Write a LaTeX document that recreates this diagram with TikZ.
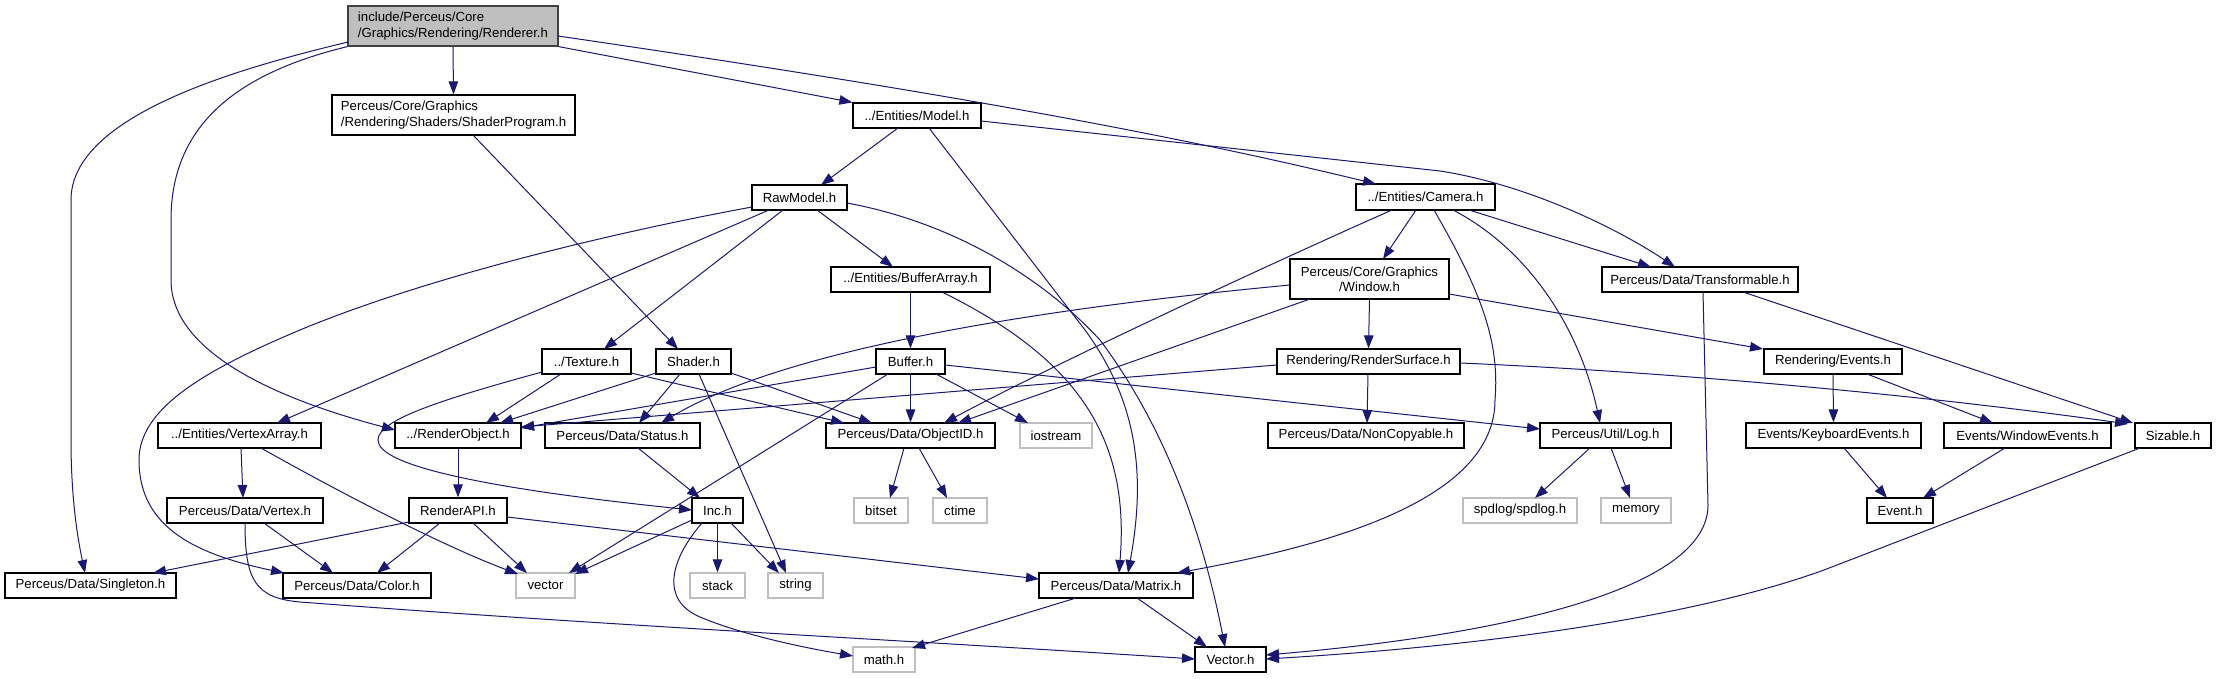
\documentclass[tikz,border=0pt]{standalone}
\usepackage{fontspec}
\setmainfont{Liberation Sans}
\usetikzlibrary{arrows.meta}
\definecolor{edgec}{HTML}{191970}
\definecolor{sysc}{HTML}{BFBFBF}
\definecolor{rootfill}{HTML}{BFBFBF}
\definecolor{rootdraw}{HTML}{404040}
\newcommand\gbox[7][box]{\node[#1, minimum width={(#5-#3)*1pt}, minimum height={(#6-#4)*1pt}] (#2) at ({(#3+#5)/2},{(#4+#6)/2}) {#7};}
\tikzset{
  box/.style={draw=black, line width=1.2pt, rectangle, inner sep=0pt, text=black,
    font=\fontsize{13.2}{15.3}\selectfont},
  sysbox/.style={box, draw=sysc},
  rootbox/.style={box, draw=rootdraw, fill=rootfill},
  dep/.style={draw=edgec, line width=1pt, -{Triangle[length=13pt,width=9.5pt]}},
}
\begin{document}
\begin{tikzpicture}[x=1pt,y=-1pt]
\fill[white] (0,0) rectangle (2217,679);
\useasboundingbox (0,0) rectangle (2217,679);
% nodes
\gbox[rootbox,align=left]{renderer}{348}{6}{558}{46}{include/Perceus/Core\\/Graphics/Rendering/Renderer.h}
\gbox[box,align=left]{shaderprog}{332}{95}{575}{135}{Perceus/Core/Graphics\\/Rendering/Shaders/ShaderProgram.h}
\gbox{model}{853}{103}{981}{128}{../Entities/Model.h}
\gbox{rawmodel}{752}{185}{847}{210}{RawModel.h}
\gbox{camera}{1356}{184}{1495}{210}{../Entities/Camera.h}
\gbox{bufferarray}{831}{267}{990}{292}{../Entities/BufferArray.h}
\gbox[box,align=center]{window}{1290}{259}{1449}{299}{Perceus/Core/Graphics\\/Window.h}
\gbox{transformable}{1602}{267}{1798}{292}{Perceus/Data/Transformable.h}
\gbox{texture}{542}{349}{631}{374}{../Texture.h}
\gbox{shader}{656}{349}{731}{374}{Shader.h}
\gbox{buffer}{876}{349}{945}{374}{Buffer.h}
\gbox{rendersurface}{1277}{349}{1460}{374}{Rendering/RenderSurface.h}
\gbox{events}{1764}{349}{1902}{374}{Rendering/Events.h}
\gbox{vertexarray}{158}{423}{321}{448}{../Entities/VertexArray.h}
\gbox{renderobject}{395}{423}{521}{448}{../RenderObject.h}
\gbox{status}{545}{423}{700}{448}{Perceus/Data/Status.h}
\gbox{objectid}{826}{423}{995}{448}{Perceus/Data/ObjectID.h}
\gbox[sysbox]{iostream}{1020}{423}{1092}{448}{iostream}
\gbox{noncopyable}{1268}{423}{1464}{448}{Perceus/Data/NonCopyable.h}
\gbox{log}{1540}{423}{1671}{448}{Perceus/Util/Log.h}
\gbox{keyboard}{1746}{423}{1921}{448}{Events/KeyboardEvents.h}
\gbox{windowevents}{1944}{423}{2111}{448}{Events/WindowEvents.h}
\gbox{sizable}{2135}{423}{2211}{448}{Sizable.h}
\gbox{vertex}{167}{498}{323}{523}{Perceus/Data/Vertex.h}
\gbox{renderapi}{409}{498}{507}{523}{RenderAPI.h}
\gbox{inc}{692}{498}{743}{523}{Inc.h}
\gbox[sysbox]{bitset}{854}{498}{908}{523}{bitset}
\gbox[sysbox]{ctime}{933}{498}{987}{523}{ctime}
\gbox[sysbox]{spdlog}{1463}{498}{1577}{523}{spdlog/spdlog.h}
\gbox[sysbox]{memory}{1601}{498}{1671}{523}{memory}
\gbox{event}{1867}{498}{1933}{523}{Event.h}
\gbox{singleton}{5}{573}{176}{598}{Perceus/Data/Singleton.h}
\gbox{color}{283}{573}{431}{598}{Perceus/Data/Color.h}
\gbox[sysbox]{vector}{516}{573}{575}{598}{vector}
\gbox[sysbox]{stack}{690}{573}{745}{598}{stack}
\gbox[sysbox]{string}{768}{573}{823}{598}{string}
\gbox{matrix}{1039}{573}{1193}{598}{Perceus/Data/Matrix.h}
\gbox[sysbox]{mathh}{853}{647}{915}{672}{math.h}
\gbox{vectorh}{1195}{647}{1266}{672}{Vector.h}
% edges
\draw[dep] (renderer.south) -- (shaderprog.north);
\draw[dep] (renderer.south east) -- (model.north west);
\draw[dep] ([shift={(105,10)}]renderer.center) .. controls (900,86) and (1150,129) .. ([shift={(-49.5,-13)}]camera.center);
\draw[dep] ([shift={(-105,16)}]renderer.center) .. controls (240,68) and (71,115) .. (71,200) -- (71,440) .. controls (71,500) and (78,540) .. ([shift={(-5.5,-12.5)}]singleton.center);
\draw[dep] (renderer.south west) .. controls (230,75) and (171,130) .. (171,220) -- (171,280) .. controls (171,360) and (300,405) .. ([shift={(-63,-5.5)}]renderobject.center);
\draw[dep] ([shift={(19.5,20)}]shaderprog.center) -- ([shift={(-15.5,-12.5)}]shader.center);
\draw[dep] ([shift={(-19,12.5)}]model.center) -- ([shift={(21.5,-12.5)}]rawmodel.center);
\draw[dep] ([shift={(64,5.5)}]model.center) -- (1440,171) .. controls (1530,185) and (1620,230) .. ([shift={(-25,-12.5)}]transformable.center);
\draw[dep] ([shift={(12,12.5)}]model.center) -- (1085,330) .. controls (1140,405) and (1145,480) .. ([shift={(12,-12.5)}]matrix.center);
\draw[dep] ([shift={(17.5,12.5)}]rawmodel.center) -- ([shift={(-17.5,-12.5)}]bufferarray.center);
\draw[dep] ([shift={(-16.5,12.5)}]rawmodel.center) -- ([shift={(17.5,-12.5)}]texture.center);
\draw[dep] ([shift={(-30.5,12.5)}]rawmodel.center) -- ([shift={(37.5,-12.5)}]vertexarray.center);
\draw[dep] ([shift={(-47.5,9.5)}]rawmodel.center) .. controls (600,235) and (420,280) .. (300,330) .. controls (200,372) and (139,410) .. (139,460) .. controls (139,530) and (200,555) .. ([shift={(-73,-12.5)}]color.center);
\draw[dep] ([shift={(47.5,5.5)}]rawmodel.center) .. controls (950,222) and (1040,275) .. (1100,340) .. controls (1160,420) and (1200,520) .. ([shift={(-5.5,-12.5)}]vectorh.center);
\draw[dep] ([shift={(-9.5,13)}]camera.center) -- ([shift={(13.5,-20)}]window.center);
\draw[dep] ([shift={(-33.5,13)}]camera.center) .. controls (1290,255) and (1060,361) .. ([shift={(33.5,-12.5)}]objectid.center);
\draw[dep] ([shift={(8.5,13)}]camera.center) .. controls (1480,290) and (1500,340) .. (1495,400) .. controls (1495,500) and (1330,545) .. ([shift={(61,-12.5)}]matrix.center);
\draw[dep] ([shift={(27.5,13)}]camera.center) .. controls (1530,250) and (1580,330) .. ([shift={(-5.5,-12.5)}]log.center);
\draw[dep] ([shift={(43.5,13)}]camera.center) -- ([shift={(-49,-12.5)}]transformable.center);
\draw[dep] (bufferarray.south) -- (buffer.north);
\draw[dep] ([shift={(31.5,12.5)}]bufferarray.center) .. controls (1080,360) and (1130,440) .. ([shift={(3,-12.5)}]matrix.center);
\draw[dep] (window.south) -- (rendersurface.north);
\draw[dep] ([shift={(79.5,15)}]window.center) -- ([shift={(-70,-12.5)}]events.center);
\draw[dep] ([shift={(-79.5,6)}]window.center) .. controls (1100,303) and (800,340) .. ([shift={(38.5,-12.5)}]status.center);
\draw[dep] ([shift={(-59.5,20)}]window.center) -- ([shift={(47.5,-12.5)}]objectid.center);
\draw[dep] ([shift={(43,12.5)}]transformable.center) -- ([shift={(-40,-12.5)}]sizable.center);
\draw[dep] ([shift={(3,12.5)}]transformable.center) -- (1708,505) .. controls (1708,590) and (1500,635) .. ([shift={(35.5,-4.5)}]vectorh.center);
\draw[dep] ([shift={(-25.5,12.5)}]texture.center) -- ([shift={(28,-12.5)}]renderobject.center);
\draw[dep] ([shift={(44.5,11.5)}]texture.center) -- ([shift={(-66.5,-12.5)}]objectid.center);
\draw[dep] ([shift={(-44.5,10.5)}]texture.center) .. controls (440,400) and (378,420) .. (378,440) .. controls (378,465) and (480,488) .. ([shift={(-25.5,-0.5)}]inc.center);
\draw[dep] ([shift={(-37.5,11.5)}]shader.center) -- ([shift={(42,-12.5)}]renderobject.center);
\draw[dep] ([shift={(-13.5,12.5)}]shader.center) -- ([shift={(16.5,-12.5)}]status.center);
\draw[dep] ([shift={(37.5,11.5)}]shader.center) -- ([shift={(-38.5,-12.5)}]objectid.center);
\draw[dep] ([shift={(5.5,12.5)}]shader.center) -- ([shift={(-9.5,-12.5)}]string.center);
\draw[dep] (buffer.south) -- (objectid.north);
\draw[dep] ([shift={(25.5,12.5)}]buffer.center) -- ([shift={(-28,-12.5)}]iostream.center);
\draw[dep] ([shift={(-34.5,5.5)}]buffer.center) -- ([shift={(63,-7.5)}]renderobject.center);
\draw[dep] ([shift={(-22.5,12.5)}]buffer.center) -- ([shift={(23.5,-12.5)}]vector.center);
\draw[dep] ([shift={(34.5,3.5)}]buffer.center) -- ([shift={(-65.5,-6.5)}]log.center);
\draw[dep] ([shift={(-0.5,12.5)}]rendersurface.center) -- ([shift={(1,-12.5)}]noncopyable.center);
\draw[dep] ([shift={(-91.5,3.5)}]rendersurface.center) -- ([shift={(63,-8.5)}]renderobject.center);
\draw[dep] ([shift={(91.5,1.5)}]rendersurface.center) .. controls (1650,371) and (1900,392) .. ([shift={(-45,-11.5)}]sizable.center);
\draw[dep] (events.south) -- (keyboard.north);
\draw[dep] ([shift={(34,12.5)}]events.center) -- ([shift={(-34.5,-12.5)}]windowevents.center);
\draw[dep] ([shift={(1.5,12.5)}]vertexarray.center) -- ([shift={(-2,-12.5)}]vertex.center);
\draw[dep] ([shift={(21.5,12.5)}]vertexarray.center) .. controls (330,487) and (440,545) .. ([shift={(-27.5,-11.5)}]vector.center);
\draw[dep] ([shift={(19,12.5)}]vertex.center) -- ([shift={(-24,-12.5)}]color.center);
\draw[dep] ([shift={(0,12.5)}]vertex.center) .. controls (245,580) and (255,598) .. (300,602) .. controls (600,625) and (900,640) .. ([shift={(-35.5,-0.5)}]vectorh.center);
\draw[dep] (renderobject.south) -- (renderapi.north);
\draw[dep] ([shift={(-49,11.5)}]renderapi.center) -- ([shift={(62.5,-12.5)}]singleton.center);
\draw[dep] ([shift={(-18,12.5)}]renderapi.center) -- ([shift={(20,-12.5)}]color.center);
\draw[dep] ([shift={(15,12.5)}]renderapi.center) -- ([shift={(-18.5,-12.5)}]vector.center);
\draw[dep] ([shift={(49,6.5)}]renderapi.center) -- ([shift={(-77,-6.5)}]matrix.center);
\draw[dep] ([shift={(15.5,12.5)}]status.center) -- ([shift={(-17.5,-12.5)}]inc.center);
\draw[dep] ([shift={(-6.5,12.5)}]objectid.center) -- ([shift={(9,-12.5)}]bitset.center);
\draw[dep] ([shift={(8.5,12.5)}]objectid.center) -- ([shift={(-13,-12.5)}]ctime.center);
\draw[dep] ([shift={(-25.5,9.5)}]inc.center) -- ([shift={(29.5,-11.5)}]vector.center);
\draw[dep] (inc.south) -- (stack.north);
\draw[dep] ([shift={(13.5,12.5)}]inc.center) -- ([shift={(-16.5,-12.5)}]string.center);
\draw[dep] ([shift={(-15.5,12.5)}]inc.center) .. controls (670,560) and (660,600) .. (700,617) .. controls (740,634) and (800,647) .. ([shift={(-31,-3.5)}]mathh.center);
\draw[dep] ([shift={(-40,12.5)}]matrix.center) -- ([shift={(28,-11.5)}]mathh.center);
\draw[dep] ([shift={(21,12.5)}]matrix.center) -- ([shift={(-23.5,-12.5)}]vectorh.center);
\draw[dep] ([shift={(-15.5,12.5)}]log.center) -- ([shift={(15,-12.5)}]spdlog.center);
\draw[dep] ([shift={(5.5,12.5)}]log.center) -- ([shift={(-6,-12.5)}]memory.center);
\draw[dep] ([shift={(10.5,12.5)}]keyboard.center) -- ([shift={(-13,-12.5)}]event.center);
\draw[dep] ([shift={(-22.5,12.5)}]windowevents.center) -- ([shift={(23,-12.5)}]event.center);
\draw[dep] ([shift={(-33,12.5)}]sizable.center) -- (1824,570) .. controls (1700,615) and (1500,645) .. ([shift={(35.5,-0.5)}]vectorh.center);
\end{tikzpicture}
\end{document}
